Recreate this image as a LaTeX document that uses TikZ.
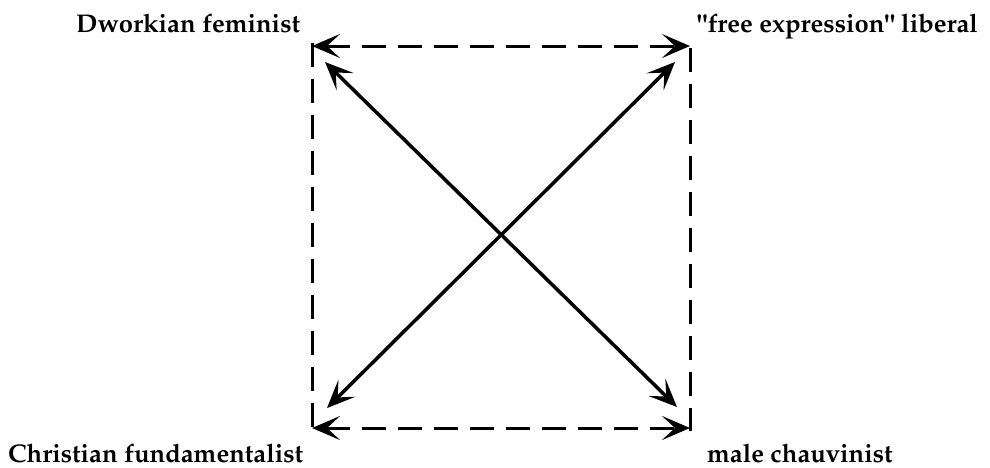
\documentclass[tikz,border=0pt]{standalone}
\usepackage[T1]{fontenc}
\usepackage{mathpazo}
\usetikzlibrary{arrows.meta}
\begin{document}
\begin{tikzpicture}[x=1pt,y=-1pt,
  lbl/.style={anchor=base west,inner sep=0pt,font=\fontsize{25.6}{30}\selectfont\bfseries},
  dtip/.style={{Stealth[length=28pt,width=24pt,inset=13pt]}-{Stealth[length=28pt,width=24pt,inset=13pt]}},
  conn/.style={line width=3.5pt},
  dashline/.style={line width=3pt,dash pattern=on 24pt off 12pt}]
\useasboundingbox (0,0) rectangle (990,467);
\node[lbl] (df) at (76,32) {Dworkian feminist};
\node[lbl] (fe) at (697,32) {\textquotedbl free expression\textquotedbl{} liberal};
\node[lbl] (cf) at (8,462) {Christian fundamentalist};
\node[lbl] (mc) at (707,462) {male chauvinist};
\coordinate (TL) at (312,46);
\coordinate (TR) at (690,46);
\coordinate (BL) at (312,428);
\coordinate (BR) at (690,428);
\coordinate (tl) at (325,62);
\coordinate (tr) at (675,62);
\coordinate (bl) at (327,408);
\coordinate (br) at (677,407);
\draw[dashline] (312,43) -- (312,431);
\draw[dashline] (690,48) -- (690,431);
\draw[dashline,dtip] (TL) -- (TR);
\draw[dashline,dtip] (BL) -- (BR);
\draw[conn,dtip] (tl) -- (br);
\draw[conn,dtip] (bl) -- (tr);
\end{tikzpicture}
\end{document}
